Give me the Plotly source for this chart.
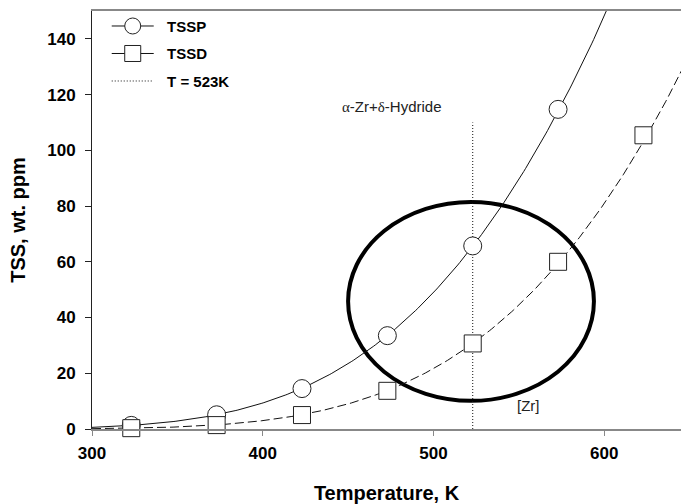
import numpy as np
import plotly.graph_objects as go

# Terminal solid solubility of hydrogen in Zr (wt. ppm) vs temperature (K)
tssp_T = [323, 373, 423, 473, 523, 573]
tssp_ppm = [1.3, 5.1, 14.5, 33.5, 65.7, 114.7]

tssd_T = [323, 373, 423, 473, 523, 573, 623]
tssd_ppm = [0.3, 1.4, 5.0, 13.7, 30.7, 60.0, 105.4]

t_mark = 523
t_mark_top = 110

x_ticks = [300, 400, 500, 600]
y_ticks = [0, 20, 40, 60, 80, 100, 120, 140]

FONT = "Liberation Sans, Arial, sans-serif"
INK = "#111"
SOLID = dict(color=INK, width=1)
DASHED = dict(color=INK, width=1, dash="9px,4px")
DOTTED = dict(color=INK, width=1, dash="1px,2px")
CIRCLE = dict(symbol="circle", size=18, color="white", line=dict(color="#222", width=1))
SQUARE = dict(symbol="square", size=17, color="white", line=dict(color="#222", width=1))
GAP = "\u00a0\u00a0"  # extra room between legend glyph and its label


def arrhenius_fit(T, c):
    """Least-squares fit of ln(C) = ln(A) - Q/T; returns fitted curve on a grid."""
    T = np.asarray(T, float)
    slope, intercept = np.polyfit(1.0 / T, np.log(c), 1)
    grid = np.linspace(300, 650, 300)
    return grid, np.exp(intercept + slope / grid)


p_x, p_y = arrhenius_fit(tssp_T, tssp_ppm)
d_x, d_y = arrhenius_fit(tssd_T, tssd_ppm)

fig = go.Figure()

# fitted curves
fig.add_trace(go.Scatter(x=p_x, y=p_y, mode="lines", showlegend=False,
                         line=SOLID, hoverinfo="skip"))
fig.add_trace(go.Scatter(x=d_x, y=d_y, mode="lines", showlegend=False,
                         line=DASHED, hoverinfo="skip"))

# T = 523K line
fig.add_trace(go.Scatter(x=[t_mark, t_mark], y=[0, t_mark_top], mode="lines",
                         name=GAP + "T = 523K", legendrank=3, legendgroup="c", line=DOTTED))

# measured points
fig.add_trace(go.Scatter(x=tssp_T, y=tssp_ppm, mode="markers", showlegend=False,
                         cliponaxis=False, marker=CIRCLE))
fig.add_trace(go.Scatter(x=tssd_T, y=tssd_ppm, mode="markers", showlegend=False,
                         cliponaxis=False, marker=SQUARE))

# legend entries: curve style plus point symbol
fig.add_trace(go.Scatter(x=[None], y=[None], mode="lines+markers", name=GAP + "TSSP",
                         legendrank=1, legendgroup="a", line=SOLID, marker=CIRCLE))
fig.add_trace(go.Scatter(x=[None], y=[None], mode="lines+markers", name=GAP + "TSSD",
                         legendrank=2, legendgroup="b", line=SOLID, marker=SQUARE))

fig.add_shape(type="circle", xref="x", yref="y", x0=450, x1=594, y0=10.1, y1=81.5,
              line=dict(color="black", width=4), layer="below")

fig.add_annotation(x=475.6, y=115.6, xref="x", yref="y", showarrow=False,
                   text="<span style=\"font-family:'Liberation Serif'\">α</span>-Zr+"
                        "<span style=\"font-family:'Liberation Serif'\">δ</span>-Hydride",
                   font=dict(family=FONT, size=15, color="#222"))
fig.add_annotation(x=555.9, y=8.6, xref="x", yref="y", showarrow=False,
                   text="[Zr]", font=dict(family=FONT, size=15, color="#222"))

fig.update_layout(
    width=681, height=504,
    margin=dict(l=92, r=0, t=11, b=75),
    paper_bgcolor="white", plot_bgcolor="white",
    font=dict(family=FONT, color="black"),
    showlegend=True,
    legend=dict(x=0.025, y=1.003, xanchor="left", yanchor="top",
                bgcolor="rgba(0,0,0,0)", traceorder="grouped",
                tracegroupgap=5, itemwidth=42,
                font=dict(family=FONT, size=15, color="black", weight="bold")),
    xaxis=dict(range=[300, 645], tickvals=x_ticks, ticks="outside", ticklen=5,
               tickcolor="#888", linecolor="#888", linewidth=1.5, mirror=True,
               showgrid=False, zeroline=False, ticklabelstandoff=3, automargin=False,
               tickfont=dict(family=FONT, size=17, weight="bold"),
               title=dict(text="Temperature, K", standoff=28,
                          font=dict(family=FONT, size=20, weight="bold"))),
    yaxis=dict(range=[0, 150], tickvals=y_ticks, ticks="outside", ticklen=6,
               tickcolor="#222", linecolor="#222", linewidth=1,
               showgrid=False, zeroline=False, ticklabelstandoff=6, automargin=False,
               tickfont=dict(family=FONT, size=17, weight="bold"),
               title=dict(text="TSS, wt. ppm", standoff=16,
                          font=dict(family=FONT, size=20, weight="bold"))),
)

fig.write_html("out.html")
